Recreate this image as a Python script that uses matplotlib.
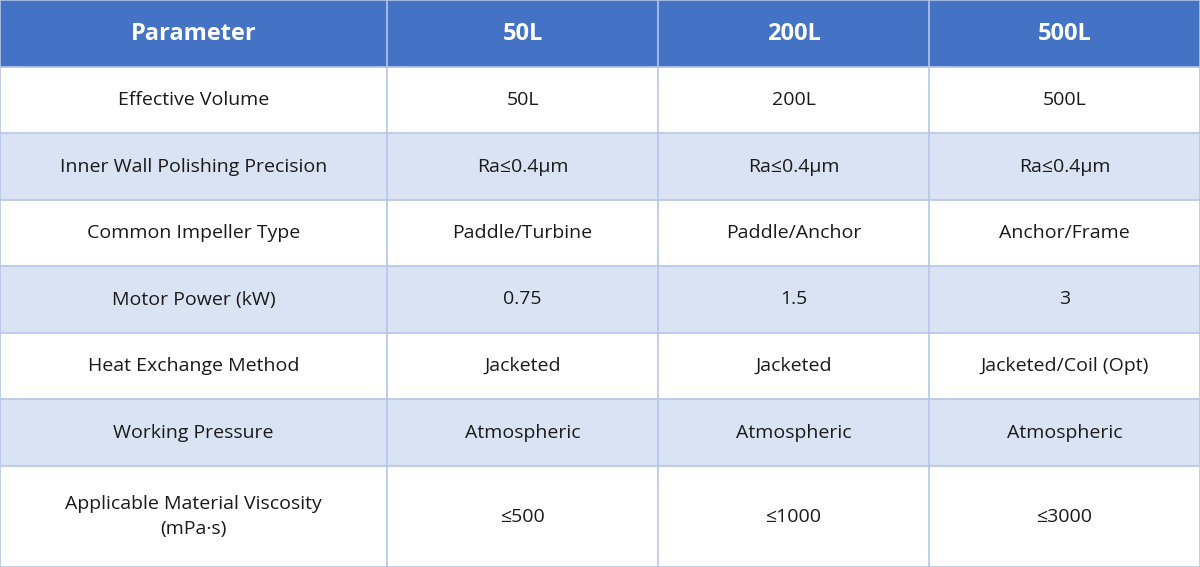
import matplotlib
matplotlib.use("Agg")
import matplotlib.pyplot as plt
from matplotlib.patches import Rectangle

header = ["Parameter", "50L", "200L", "500L"]
params = ["Effective Volume", "Inner Wall Polishing Precision", "Common Impeller Type",
          "Motor Power (kW)", "Heat Exchange Method", "Working Pressure",
          "Applicable Material Viscosity\n(mPa·s)"]
col_50 = ["50L", "Ra≤0.4μm", "Paddle/Turbine", "0.75", "Jacketed", "Atmospheric", "≤500"]
col_200 = ["200L", "Ra≤0.4μm", "Paddle/Anchor", "1.5", "Jacketed", "Atmospheric", "≤1000"]
col_500 = ["500L", "Ra≤0.4μm", "Anchor/Frame", "3", "Jacketed/Coil (Opt)", "Atmospheric", "≤3000"]

col_edges = [0, 387, 658, 929, 1200]
row_edges = [0, 67, 133, 200, 266, 333, 399, 466, 567]

fam = ["Open Sans", "DejaVu Sans"]
fig = plt.figure(figsize=(12, 5.67), dpi=100)
ax = fig.add_axes([0, 0, 1, 1])
ax.set_xlim(0, 1200)
ax.set_ylim(567, 0)
ax.axis("off")

cols = [params, col_50, col_200, col_500]
for r in range(len(row_edges) - 1):
    y0, y1 = row_edges[r], row_edges[r + 1]
    if r == 0:
        fc = "#4472C4"
    elif r % 2 == 0:
        fc = "#DAE3F3"
    else:
        fc = "#FFFFFF"
    ax.add_patch(Rectangle((0, y0), 1200, y1 - y0, facecolor=fc, edgecolor="none"))
    for c in range(4):
        x0, x1 = col_edges[c], col_edges[c + 1]
        xc, yc = (x0 + x1) / 2, (y0 + y1) / 2
        if r == 0:
            ax.text(xc, yc, header[c], ha="center", va="center", color="white",
                    fontsize=17, fontweight="bold", family=fam)
        else:
            ax.text(xc, yc, cols[c][r - 1], ha="center", va="center", color="#1a1a1a",
                    fontsize=14, family=fam, linespacing=1.45)

lc = "#B4C6E7"
for x in col_edges:
    ax.plot([x, x], [0, 567], color=lc, lw=1.2)
for y in row_edges:
    ax.plot([0, 1200], [y, y], color=lc, lw=1.2)

fig.savefig("out.png", dpi=100)
